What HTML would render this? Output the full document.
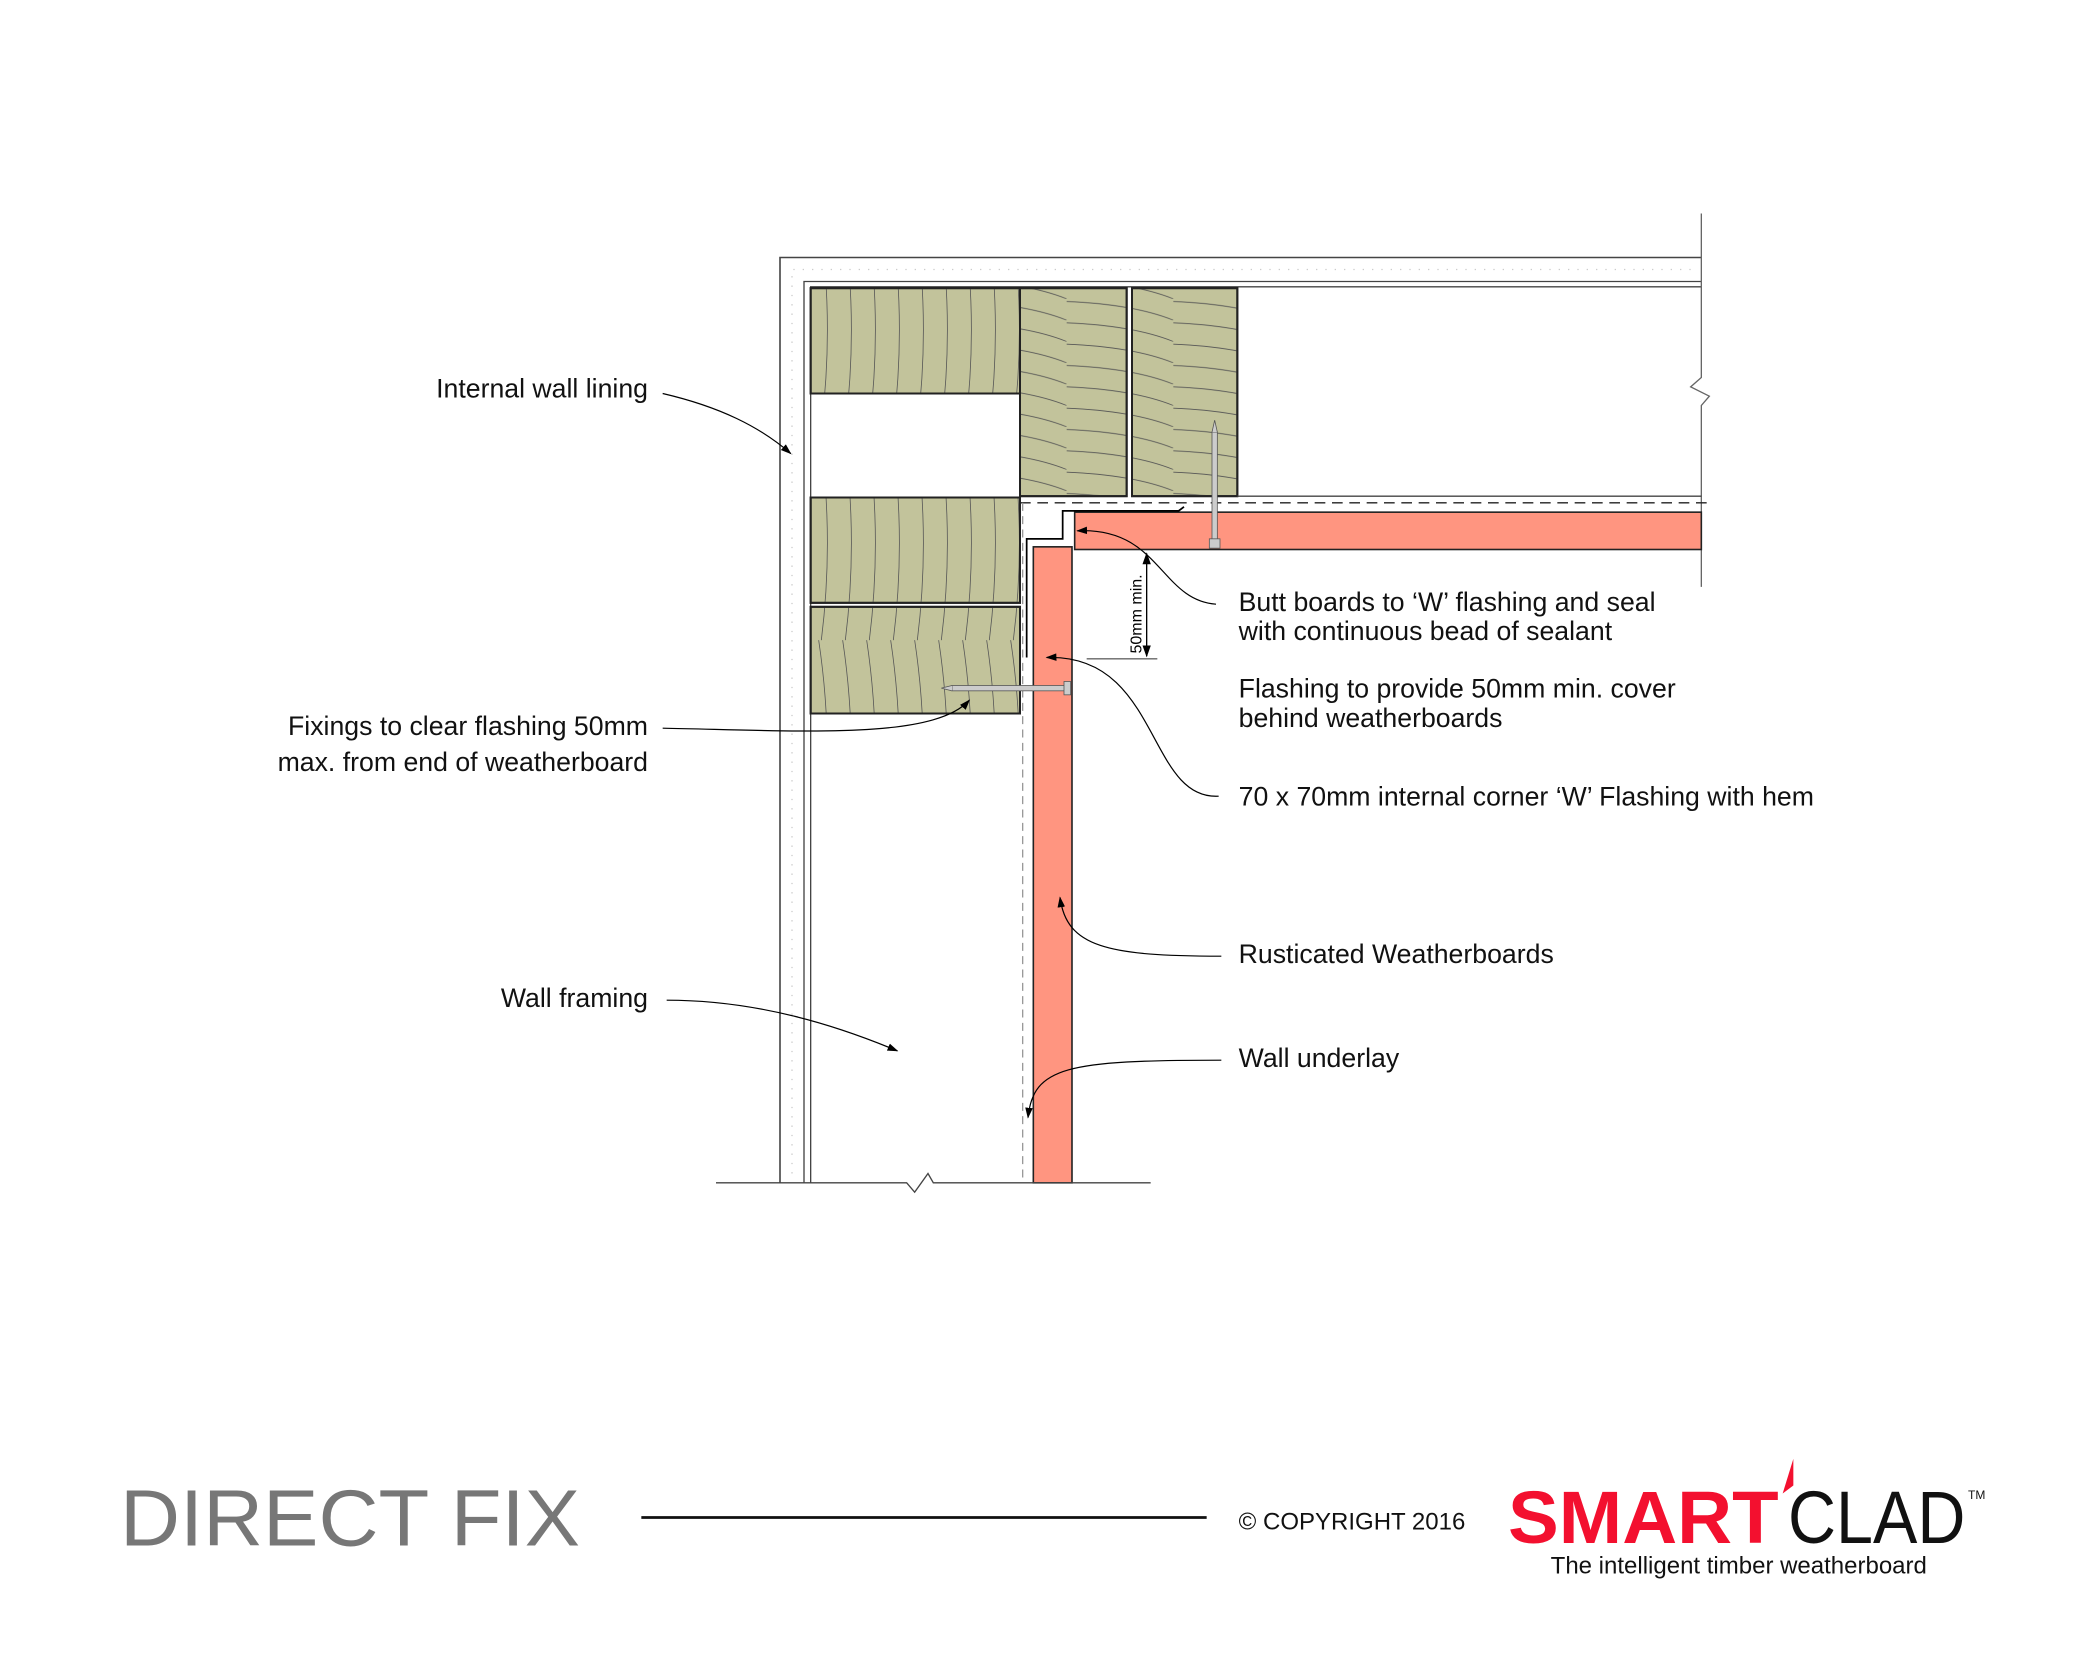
<!DOCTYPE html>
<html><head><meta charset="utf-8"><style>html,body{margin:0;padding:0;background:#fff}svg{display:block}text{font-family:"Liberation Sans",sans-serif}</style></head>
<body>
<svg width="2084" height="1667" viewBox="0 0 1563 1250" xmlns="http://www.w3.org/2000/svg">
<defs>
<marker id="ar" viewBox="0 0 10 10" refX="9" refY="5" markerWidth="9" markerHeight="9" orient="auto-start-reverse"><path d="M0,1.5 L10,5 L0,8.5 Z" fill="#000"/></marker>
<pattern id="gv" width="18" height="160" patternUnits="userSpaceOnUse"><path d="M2,0 Q14,80 4,160" fill="none" stroke="#555" stroke-width="0.6"/></pattern>
<pattern id="gh" width="80" height="16" patternUnits="userSpaceOnUse"><path d="M0,2 Q50,4 80,16" fill="none" stroke="#555" stroke-width="0.6"/></pattern>
</defs>
<path d="M585,887 V193 H1276" fill="none" stroke="#444" stroke-width="1.2"/>
<path d="M603,887 V211 H1276" fill="none" stroke="#444" stroke-width="1"/>
<path d="M594,880 V202 H1270" fill="none" stroke="#ccc" stroke-width="1" stroke-dasharray="1 6"/>
<path d="M608,887 V215 H1276" fill="none" stroke="#444" stroke-width="1"/>
<path d="M1276,160 V283 L1268,290 L1282,297 L1276,304 V440" fill="none" stroke="#666" stroke-width="1"/>
<g stroke="#222" stroke-width="1.5">
<rect x="608" y="216" width="157" height="79" fill="#C2C39B"/>
<rect x="608" y="216" width="157" height="79" fill="url(#gv)"/>
<rect x="765" y="216" width="80" height="156" fill="#C2C39B"/>
<rect x="765" y="216" width="80" height="156" fill="url(#gh)"/>
<rect x="849" y="216" width="79" height="156" fill="#C2C39B"/>
<rect x="849" y="216" width="79" height="156" fill="url(#gh)"/>
<rect x="608" y="373" width="157" height="79" fill="#C2C39B"/>
<rect x="608" y="373" width="157" height="79" fill="url(#gv)"/>
<rect x="608" y="455" width="157" height="80" fill="#C2C39B"/>
<rect x="608" y="455" width="157" height="80" fill="url(#gv)"/>
</g>
<line x1="928" y1="372" x2="1276" y2="372" stroke="#444"/>
<line x1="765" y1="377" x2="1282" y2="377" stroke="#222" stroke-dasharray="8 5"/>
<line x1="767" y1="377" x2="767" y2="887" stroke="#999" stroke-dasharray="6 4"/>
<rect x="806" y="384" width="470" height="28" fill="#FF9580" stroke="#222" stroke-width="1.2"/>
<rect x="775" y="410" width="29" height="477" fill="#FF9580" stroke="#222" stroke-width="1.2"/>
<path d="M888,380 L884,383 H797 V404 H770 V493" fill="none" stroke="#000" stroke-width="1.3"/>
<rect x="714" y="514" width="86" height="4" fill="#ccc" stroke="#555" stroke-width="0.6"/>
<path d="M714,514 L706,516 L714,518" fill="#ccc" stroke="#555" stroke-width="0.6"/>
<rect x="798" y="511" width="5" height="10" fill="#ccc" stroke="#555" stroke-width="0.6"/>
<rect x="909" y="324" width="4" height="82" fill="#ccc" stroke="#555" stroke-width="0.6"/>
<path d="M909,324 L911,315 L913,324" fill="#ccc" stroke="#555" stroke-width="0.6"/>
<rect x="907" y="404" width="8" height="7" fill="#ccc" stroke="#555" stroke-width="0.6"/>
<path d="M537,887 H680 L686,894 L696,880 L700,887 H863" fill="none" stroke="#444"/>
<line x1="860" y1="415" x2="860" y2="492" stroke="#000" marker-start="url(#ar)" marker-end="url(#ar)"/>
<line x1="815" y1="494" x2="868" y2="494" stroke="#666"/>
<text transform="translate(856,490) rotate(-90)" font-size="12">50mm min.</text>
<g fill="none" stroke="#000" stroke-width="0.9" marker-end="url(#ar)">
<path d="M497,295 C540,305 570,320 593,340"/>
<path d="M497,546 C600,548 700,555 727,525"/>
<path d="M500,750 C570,750 630,770 673,788"/>
<path d="M912,453 C870,450 870,395 808,398"/>
<path d="M914,597 C860,600 870,490 785,493"/>
<path d="M916,717 C830,717 800,710 795,673"/>
<path d="M916,795 C800,795 775,800 771,838"/>
</g>
<g font-size="20" fill="#111">
<text x="486" y="298" text-anchor="end">Internal wall lining</text>
<text x="486" y="551" text-anchor="end">Fixings to clear flashing 50mm</text>
<text x="486" y="578" text-anchor="end">max. from end of weatherboard</text>
<text x="486" y="755" text-anchor="end">Wall framing</text>
<text x="929" y="458">Butt boards to ‘W’ flashing and seal</text>
<text x="929" y="480">with continuous bead of sealant</text>
<text x="929" y="523">Flashing to provide 50mm min. cover</text>
<text x="929" y="545">behind weatherboards</text>
<text x="929" y="604">70 x 70mm internal corner ‘W’ Flashing with hem</text>
<text x="929" y="722">Rusticated Weatherboards</text>
<text x="929" y="800">Wall underlay</text>
</g>
<text x="90" y="1159" font-size="60" fill="#777" textLength="345" lengthAdjust="spacingAndGlyphs">DIRECT FIX</text>
<line x1="481" y1="1138" x2="905" y2="1138" stroke="#111" stroke-width="2"/>
<text x="929" y="1147" font-size="18" fill="#111">© COPYRIGHT 2016</text>
<text x="1131" y="1157" font-size="56" font-weight="bold" fill="#F3102F" textLength="203" lengthAdjust="spacingAndGlyphs">SMART</text>
<path d="M1337,1120 L1345,1094 L1345,1114 Z" fill="#F3102F"/>
<text x="1341" y="1157" font-size="56" fill="#111" textLength="133" lengthAdjust="spacingAndGlyphs">CLAD</text>
<text x="1476" y="1124" font-size="9" fill="#111">TM</text>
<text x="1163" y="1180" font-size="18" fill="#111">The intelligent timber weatherboard</text>
</svg>
</body></html>
